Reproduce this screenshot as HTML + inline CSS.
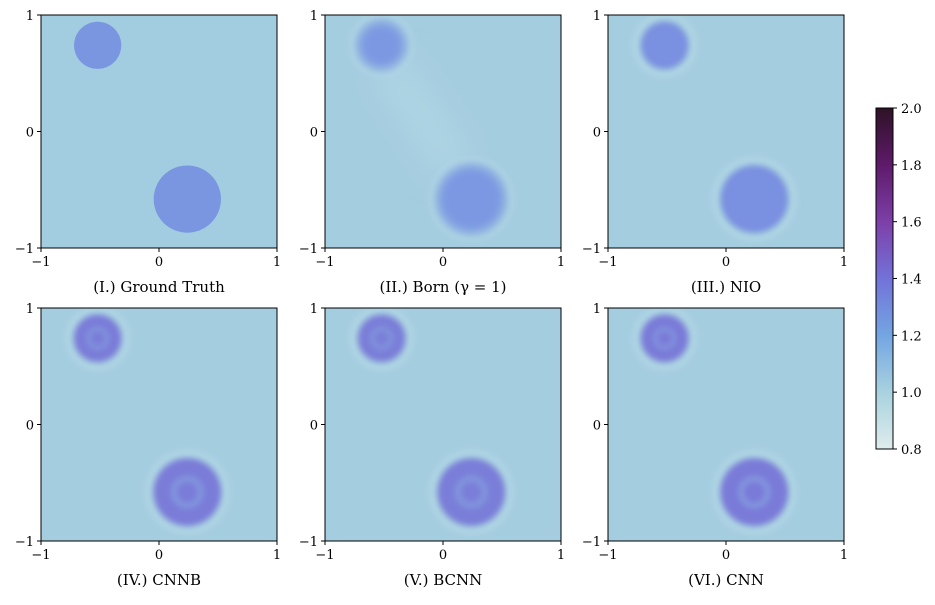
<!DOCTYPE html>
<html><head><meta charset="utf-8">
<style>
body{margin:0;background:#fff;width:935px;height:600px;overflow:hidden}
svg text{font-family:"DejaVu Serif","Liberation Serif",serif;}
</style></head>
<body>
<svg id="fig" width="935" height="600" xmlns="http://www.w3.org/2000/svg">
<defs>
<filter id="b1" x="-50%" y="-50%" width="200%" height="200%"><feGaussianBlur stdDeviation="3"/></filter>
<filter id="b2" x="-50%" y="-50%" width="200%" height="200%"><feGaussianBlur stdDeviation="5"/></filter>
<filter id="b3" x="-50%" y="-50%" width="200%" height="200%"><feGaussianBlur stdDeviation="14"/></filter>
<linearGradient id="cbg" x1="0" y1="1" x2="0" y2="0">
<stop offset="0" stop-color="#dfeceb"/><stop offset="0.1667" stop-color="#a8d2e0"/>
<stop offset="0.3333" stop-color="#73a5e2"/><stop offset="0.5" stop-color="#7372d8"/>
<stop offset="0.6667" stop-color="#7d3fa8"/><stop offset="0.8333" stop-color="#5e1a6a"/>
<stop offset="1" stop-color="#2e1226"/></linearGradient>
</defs>
</svg>
<script>
const titles=["(I.) Ground Truth","(II.) Born (\u03b3 = 1)","(III.) NIO","(IV.) CNNB","(V.) BCNN","(VI.) CNN"];
const discCx=[-0.52,0.24];
const discCy=[0.74,-0.58];
const discR=[0.2,0.285];
const discColor=["#7b96e0","#7c98e2","#7a90e0","#7a7cd8","#7a7ed8","#7a7ad8"];
const blurLevel=[0,2,1,1,1,1];
const xTicks=[-1,0,1];
const yTicks=[-1,0,1];
const cbTicks=[0.8,1.0,1.2,1.4,1.6,1.8,2.0];
const cbMin=0.8,cbMax=2.0;
const cols=[41,325,608],rows=[15,308],W=236,H=233;
const NS="http://www.w3.org/2000/svg";
const svg=document.getElementById('fig');
function mk(t,a,p){const e=document.createElementNS(NS,t);for(const k in a)e.setAttribute(k,a[k]);(p||svg).appendChild(e);return e;}
titles.forEach((t,i)=>{
  const x0=cols[i%3],y0=rows[Math.floor(i/3)];
  const sx=v=>x0+(v+1)/2*W, sy=v=>y0+(1-v)/2*H;
  const g=mk('g',{});
  
  
  mk('rect',{x:x0,y:y0,width:W,height:H,fill:i==0?'#a2cce0':'#a5cde0'},g);
  const clip=mk('clipPath',{id:'c'+i},g);mk('rect',{x:x0,y:y0,width:W,height:H},clip);
  const inner=mk('g',{'clip-path':'url(#c'+i+')'},g);
  if(i==1){mk('line',{x1:sx(-0.45),y1:sy(0.55),x2:sx(0.1),y2:sy(-0.3),stroke:'#add4e3','stroke-width':40,filter:'url(#b3)'},inner);}
  for(let k=0;k<discCx.length;k++){
    const cx=sx(discCx[k]),cy=sy(discCy[k]),rr=discR[k]*W/2;
    if(i>0){mk('circle',{cx,cy,r:rr+6,fill:'none',stroke:'#b3d8e5','stroke-width':4,filter:'url(#b1)'},inner);}
    const c=mk('circle',{cx,cy,r:rr,fill:discColor[i]},inner);
    
    
    if(blurLevel[i])c.setAttribute('filter','url(#b'+blurLevel[i]+')');
    if(i>=3){mk('circle',{cx,cy,r:rr*0.4,fill:'none',stroke:'#8296de','stroke-width':rr*0.18,filter:'url(#b1)'},inner);}
  }
  mk('rect',{x:x0,y:y0,width:W,height:H,fill:'none',stroke:'#000','stroke-width':1},g);
  xTicks.forEach(v=>{mk('line',{x1:sx(v),x2:sx(v),y1:y0+H,y2:y0+H+4,stroke:'#000'},g);
    const t=mk('text',{x:sx(v),y:y0+H+18,'font-size':13,'text-anchor':'middle'},g);t.textContent=v==-1?'\u22121':v;});
  yTicks.forEach(v=>{mk('line',{x1:x0,x2:x0-4,y1:sy(v),y2:sy(v),stroke:'#000'},g);
    const t=mk('text',{x:x0-7,y:sy(v)+5,'font-size':13,'text-anchor':'end'},g);t.textContent=v==-1?'\u22121':v;});
  const tt=mk('text',{x:x0+W/2,y:y0+H+44,'font-size':15,'text-anchor':'middle'},g);tt.textContent=t;
  
  
});
const cbX=876,cbY=108,cbW=17,cbH=341;
const cb=mk('g',{});


mk('rect',{x:cbX,y:cbY,width:cbW,height:cbH,fill:'url(#cbg)',stroke:'#000','stroke-width':1},cb);
cbTicks.forEach(v=>{const y=cbY+cbH-(v-cbMin)/(cbMax-cbMin)*cbH;
  mk('line',{x1:cbX+cbW,x2:cbX+cbW+4,y1:y,y2:y,stroke:'#000'},cb);
  const t=mk('text',{x:cbX+cbW+8,y:y+5,'font-size':13},cb);t.textContent=v.toFixed(1);});
</script>
</body></html>
